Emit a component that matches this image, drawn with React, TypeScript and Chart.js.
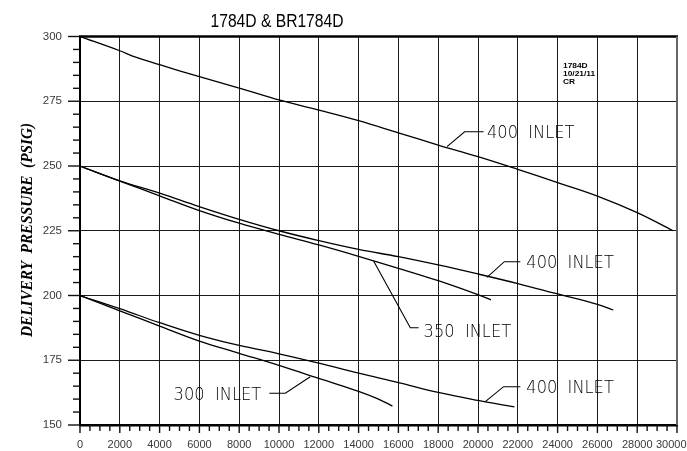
import React, { useEffect, useRef } from 'react';
import { Chart, registerables } from 'chart.js';

Chart.register(...registerables);

const TITLE = '1784D & BR1784D';
const Y_LABEL = 'DELIVERY  PRESSURE  (PSIG)';
const STAMP = ['1784D', '10/21/11', 'CR'];

const X_MIN = 0;
const X_MAX = 30000;
const X_MAJOR = 2000;
const X_MINOR = 500;
const Y_MIN = 150;
const Y_MAX = 300;
const Y_MAJOR = 25;
const Y_MINOR = 5;

// 400 inlet, starting at 300 psig
const top400X = [0, 2000, 2800, 4000, 6000, 8000, 10000, 12000, 14000, 16000, 18000, 20000, 22000, 24000, 26000, 28000, 29800];
const top400Y = [300, 294.5, 292, 289.1, 284.5, 280.1, 275.5, 271.6, 267.5, 262.8, 258.1, 253.6, 248.7, 243.6, 238.4, 232, 225];

// 400 inlet, starting at 250 psig
const mid400X = [0, 2000, 4000, 6000, 8000, 10000, 12000, 14000, 16000, 18000, 20000, 22000, 24000, 26000, 26800];
const mid400Y = [250, 244.3, 239.5, 234.3, 229.4, 225.0, 221.2, 217.8, 215.0, 211.8, 208.3, 204.6, 200.6, 196.6, 194.4];

// 350 inlet, starting at 250 psig
const mid350X = [0, 2000, 4000, 6000, 8000, 10000, 12000, 14000, 16000, 18000, 20000, 20650];
const mid350Y = [250, 244.2, 238.5, 232.8, 227.9, 223.6, 219.5, 215.1, 210.5, 205.7, 200.3, 198.3];

// 400 inlet, starting at 200 psig
const low400X = [0, 2000, 4000, 6000, 8000, 10000, 12000, 14000, 16000, 18000, 20000, 21830];
const low400Y = [200, 194.9, 189.5, 184.6, 180.7, 177.5, 173.9, 170.0, 166.4, 162.6, 159.5, 157.0];

// 300 inlet, starting at 200 psig
const low300X = [0, 2000, 4000, 6000, 8000, 10000, 12000, 14000, 15000, 15700];
const low300Y = [200, 194.1, 188.2, 182.4, 177.7, 173.0, 168.0, 163.0, 160.0, 157.3];

const labelTexts = ['400  INLET', '400  INLET', '350  INLET', '400  INLET', '300  INLET'];
const labelX = [20452, 22427, 17266, 22427, 4704];
const labelY = [263.4, 213.2, 186.6, 164.9, 161.9];
const leaderX = [
  [18442, 19327, 20281],
  [20452, 21322, 22126],
  [14754, 16598, 17015],
  [20367, 21286, 22126],
  [11573, 10317, 9513],
];
const leaderY = [
  [257.45, 263.24, 263.24],
  [207.03, 213.05, 213.05],
  [213.3, 187.57, 187.57],
  [159.0, 164.79, 164.79],
  [168.65, 162.24, 162.24],
];

const STAMP_X = 24270;
const STAMP_Y = 288.0;

const X_TICK_SIZE = 11;
const Y_TICK_SIZE = 11.5;
const TICK_COLOR = '#3a3a3a';

function pts(xs: number[], ys: number[]) {
  return xs.map((x, i) => ({ x, y: ys[i] }));
}

function fitText(ctx: CanvasRenderingContext2D, text: string, x: number, y: number, font: string, width: number, align: CanvasTextAlign) {
  ctx.save();
  ctx.font = font;
  const w = ctx.measureText(text).width;
  ctx.translate(x, y);
  ctx.scale(width / w, 1);
  ctx.textAlign = align;
  ctx.textBaseline = 'alphabetic';
  ctx.fillText(text, 0, 0);
  ctx.restore();
}

const decor = {
  id: 'decor',
  afterDraw(chart: any) {
    const { ctx, chartArea: a, scales } = chart;
    const xs = scales.x;
    const ys = scales.y;
    ctx.save();
    const line = (x1: number, y1: number, x2: number, y2: number) => {
      ctx.beginPath();
      ctx.moveTo(x1, y1);
      ctx.lineTo(x2, y2);
      ctx.stroke();
    };
    // tick marks
    ctx.strokeStyle = '#111';
    ctx.lineWidth = 1.4;
    for (let v = Y_MIN; v <= Y_MAX; v += Y_MINOR) {
      const py = ys.getPixelForValue(v);
      const len = v % Y_MAJOR === 0 ? 12 : 7;
      line(a.left - len, py, a.left, py);
    }
    for (let v = X_MIN; v <= X_MAX; v += X_MINOR) {
      const px = xs.getPixelForValue(v);
      const len = v % X_MAJOR === 0 ? 8 : 6;
      line(px, a.bottom, px, a.bottom + len);
    }
    // top border
    ctx.strokeStyle = '#000';
    ctx.lineWidth = 2.5;
    line(a.left - 1, a.top, a.right + 1, a.top);
    // right border
    ctx.strokeStyle = '#666';
    ctx.lineWidth = 2;
    line(a.right, a.top, a.right, a.bottom);

    // last x tick label, kept inside the canvas edge
    const items = xs.getLabelItems();
    if (items && items.length) {
      const it = items[0];
      ctx.save();
      ctx.font = `${X_TICK_SIZE}px 'Liberation Sans'`;
      ctx.fillStyle = TICK_COLOR;
      ctx.textAlign = 'right';
      ctx.textBaseline = it.options.textBaseline;
      ctx.fillText(String(X_MAX), chart.width - 0.5, it.options.translation[1] + (it.textOffset || 0));
      ctx.restore();
    }

    // title
    ctx.fillStyle = '#000';
    fitText(ctx, TITLE, 277, 26.7, "18px 'Liberation Sans'", 133, 'center');

    // y axis label
    ctx.save();
    ctx.translate(31.7, 230);
    ctx.rotate(-Math.PI / 2);
    fitText(ctx, Y_LABEL, 0, 0, "italic bold 17px 'Liberation Serif'", 214, 'center');
    ctx.restore();

    // stamp
    ctx.save();
    ctx.font = "bold 7px 'Liberation Sans'";
    const sw = ctx.measureText(STAMP[0]).width;
    const sx = 24.7 / sw;
    const spx = xs.getPixelForValue(STAMP_X);
    const spy = ys.getPixelForValue(STAMP_Y);
    STAMP.forEach((s, i) => {
      ctx.save();
      ctx.translate(spx, spy + i * 8.1);
      ctx.scale(sx, 1);
      ctx.textAlign = 'left';
      ctx.fillText(s, 0, 0);
      ctx.restore();
    });
    ctx.restore();

    // inlet labels and leaders
    ctx.strokeStyle = '#000';
    ctx.lineWidth = 1.1;
    leaderX.forEach((lx, i) => {
      ctx.beginPath();
      lx.forEach((x, j) => {
        const px = xs.getPixelForValue(x);
        const py = ys.getPixelForValue(leaderY[i][j]);
        if (j === 0) ctx.moveTo(px, py);
        else ctx.lineTo(px, py);
      });
      ctx.stroke();
    });
    labelTexts.forEach((t, i) => {
      const px = xs.getPixelForValue(labelX[i]);
      const py = ys.getPixelForValue(labelY[i]);
      fitText(ctx, t, px, py + 6.3, "200 17px 'DejaVu Sans'", 87.5, 'left');
    });
    ctx.restore();
  },
};

export default function App() {
  const ref = useRef<HTMLCanvasElement>(null);
  useEffect(() => {
    if (!ref.current) return;
    const ds = (xs: number[], ys: number[]) => ({
      data: pts(xs, ys),
      borderColor: '#000',
      borderWidth: 1.3,
      pointRadius: 0,
      tension: 0.4,
      fill: false,
    });
    const chart = new Chart(ref.current, {
      type: 'line',
      data: {
        datasets: [
          ds(top400X, top400Y),
          ds(mid400X, mid400Y),
          ds(mid350X, mid350Y),
          ds(low400X, low400Y),
          ds(low300X, low300Y),
        ],
      },
      options: {
        responsive: false,
        animation: false,
        devicePixelRatio: 1,
        layout: { padding: { top: 36.5, right: 10, left: 0, bottom: 0 } },
        plugins: { legend: { display: false }, tooltip: { enabled: false }, title: { display: false } },
        scales: {
          x: {
            type: 'linear',
            min: X_MIN,
            max: X_MAX,
            afterFit: (s: any) => {
              s.height = 26;
              s.paddingLeft = 0;
              s.paddingRight = 0;
            },
            ticks: {
              stepSize: X_MAJOR,
              autoSkip: false,
              maxRotation: 0,
              padding: 13.5,
              color: TICK_COLOR,
              font: { family: "'Liberation Sans'", size: X_TICK_SIZE },
              callback: (v: any) => (v === X_MAX ? '' : String(v)),
            },
            grid: {
              drawTicks: false,
              lineWidth: 1,
              color: (c: any) => (c.tick && (c.tick.value === X_MIN || c.tick.value === X_MAX) ? 'rgba(0,0,0,0)' : '#1a1a1a'),
            },
            border: { display: true, color: '#000', width: 2.5 },
          },
          y: {
            type: 'linear',
            min: Y_MIN,
            max: Y_MAX,
            afterFit: (s: any) => {
              s.width = 80;
              s.paddingTop = 0;
              s.paddingBottom = 0;
            },
            ticks: {
              stepSize: Y_MAJOR,
              padding: 18,
              color: TICK_COLOR,
              font: { family: "'Liberation Sans'", size: Y_TICK_SIZE },
              callback: (v: any) => String(v),
            },
            grid: {
              drawTicks: false,
              lineWidth: 1,
              color: (c: any) => (c.tick && (c.tick.value === Y_MIN || c.tick.value === Y_MAX) ? 'rgba(0,0,0,0)' : '#1a1a1a'),
            },
            border: { display: true, color: '#000', width: 2 },
          },
        },
      },
      plugins: [decor],
    });
    return () => chart.destroy();
  }, []);
  return (
    <div style={{ position: 'fixed', left: 0, top: 0, width: 687, height: 451, background: '#fff' }}>
      <canvas ref={ref} width={687} height={451} style={{ display: 'block', width: 687, height: 451 }} />
    </div>
  );
}
